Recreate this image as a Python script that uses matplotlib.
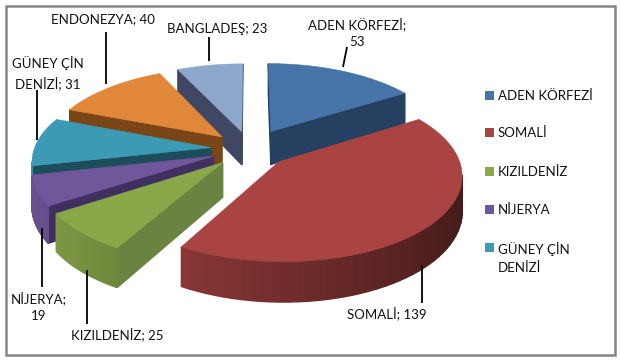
import numpy as np
import matplotlib
matplotlib.use("Agg")
import matplotlib.pyplot as plt
from matplotlib.patches import Rectangle

plt.rcParams['font.family'] = ['Lato', 'DejaVu Sans']

categories = ['ADEN KÖRFEZİ', 'SOMALİ', 'KIZILDENİZ', 'NİJERYA', 'GÜNEY ÇİN DENİZİ', 'ENDONEZYA', 'BANGLADEŞ']
values = [53, 139, 25, 19, 31, 40, 23]
legend_labels = ['ADEN KÖRFEZİ', 'SOMALİ', 'KIZILDENİZ', 'NİJERYA', 'GÜNEY ÇİN\nDENİZİ']

top_colors = ['#4673a8', '#a94442', '#8aa84a', '#70569a', '#3d9ab5', '#e0873a', '#8da8cc']
wall_colors = ['#254061', '#632827', '#6b8340', '#40305f', '#1d4c5a', '#7a4517', '#3f4763']

# how the flat pie is seen (pixels of the 620x361 picture)
CX, CY = 250, 149
RX, RY = 177, 82
PERSP = 0.14
DEPTH = 34
explode = [0.25, 0.22, 0.22, 0.22, 0.22, 0.22, 0.22]


def project(u, v, bottom=False):
    """Project a point of the pie plane to picture coordinates."""
    s = 1 / (1 + PERSP * v)
    x = CX + RX * u * s
    y = CY - RY * v * s
    if bottom:
        y = y + DEPTH * s
    return x, y


def shade(color, factor):
    rgb = np.array(matplotlib.colors.to_rgb(color))
    return tuple(rgb * factor)


def draw_wall(ax, a, b, color):
    """Draw one side wall if it faces the viewer."""
    pts = [project(*a), project(*b), project(*b, bottom=True), project(*a, bottom=True)]
    area = 0
    for i in range(4):
        x1, y1 = pts[i]
        x2, y2 = pts[(i + 1) % 4]
        area += x1 * y2 - x2 * y1
    if area < 0:
        ax.fill(*zip(*pts), facecolor=color, edgecolor=color, linewidth=0.9)


def draw_slice(ax, start, end, top, wall, offset):
    mid = (start + end) / 2
    apex = (offset * np.sin(mid), offset * np.cos(mid))
    angles = np.linspace(start, end, 60)
    rim = [(apex[0] + np.sin(t), apex[1] + np.cos(t)) for t in angles]

    draw_wall(ax, apex, rim[0], wall)
    for i in range(len(rim) - 1):
        t = (np.sin(angles[i]) + 1) / 2
        draw_wall(ax, rim[i], rim[i + 1], shade(top, 0.95 - 0.55 * t))
    draw_wall(ax, rim[-1], apex, wall)

    outline = [project(*apex)] + [project(*p) for p in rim]
    ax.fill(*zip(*outline), facecolor=top, edgecolor=top, linewidth=0.4)


fig = plt.figure(figsize=(6.2, 3.61), dpi=100)
ax = fig.add_axes([0, 0, 1, 1])
ax.set_xlim(0, 620)
ax.set_ylim(361, 0)
ax.axis('off')

ax.add_patch(Rectangle((6, 6), 609, 349, facecolor='white', edgecolor='#858585', linewidth=1.8))

# slices run clockwise from 12 o'clock
edges = np.concatenate([[0], np.cumsum(values)]) / sum(values) * 2 * np.pi
for i in [6, 5, 0, 4, 3, 2, 1]:
    draw_slice(ax, edges[i], edges[i + 1], top_colors[i], wall_colors[i], explode[i])

# leader lines
leaders = [((347, 47), (343, 67)), ((422, 265), (422, 303)), ((87, 270), (87, 324)),
           ((42, 228), (42, 287)), ((37, 90), (37, 140)), ((106, 32), (106, 84)), ((209, 37), (209, 61))]
for p, q in leaders:
    ax.plot([p[0], q[0]], [p[1], q[1]], color='black', linewidth=1.3, solid_capstyle='butt')

# data labels
label_text = [f"{c}; {v}" for c, v in zip(categories, values)]
label_text[0] = "ADEN KÖRFEZİ;\n53"
label_text[3] = "NİJERYA;\n19"
label_text[4] = "GÜNEY ÇİN\nDENİZİ; 31"
label_pos = [(357, 33), (387, 313), (117, 334), (39, 307), (48, 73), (103, 19), (217, 29)]
for text, (x, y) in zip(label_text, label_pos):
    ax.text(x, y, text, ha='center', va='center', fontsize=9.5, color='#111111', linespacing=1.5)

# legend
legend_y = [96, 133, 172, 210, 248]
for text, y, color in zip(legend_labels, legend_y, top_colors):
    ax.add_patch(Rectangle((485, y - 5.5), 9, 9, facecolor=color, edgecolor='none'))
    ax.text(498, y - 6, text, ha='left', va='top', fontsize=9.5, color='#111111', linespacing=1.6)

fig.savefig('out.png', dpi=100)
